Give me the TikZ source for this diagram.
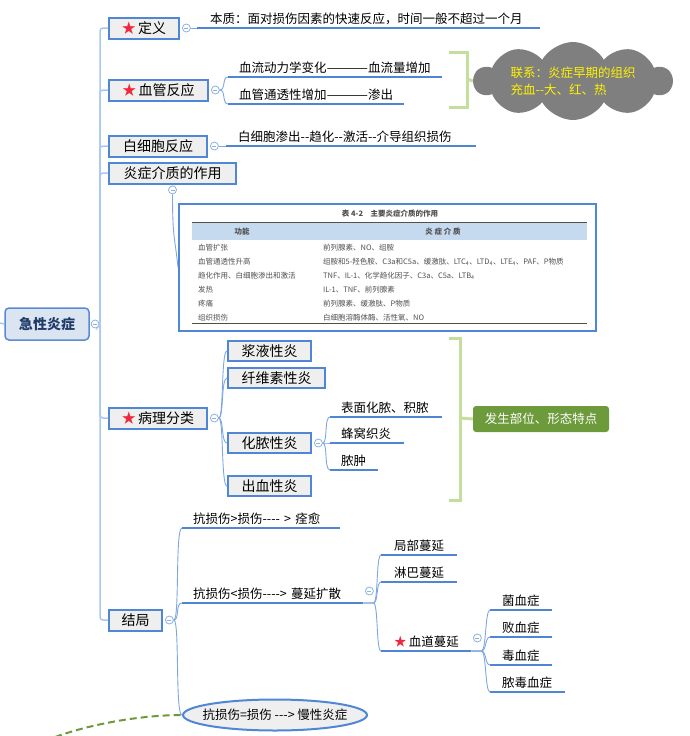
\documentclass[tikz,border=0pt]{standalone}
\usepackage{fontspec}
\setmainfont{Noto Sans CJK SC}[Ligatures=TeXOff]
\usepackage{tikz}
\usetikzlibrary{shapes.geometric,shapes.symbols,positioning}

\definecolor{boxblue}{RGB}{79,134,214}
\definecolor{boxgray}{RGB}{239,239,239}
\definecolor{ulblue}{RGB}{79,133,211}
\definecolor{connblue}{RGB}{126,166,224}
\definecolor{trunkblue}{RGB}{169,199,239}
\definecolor{foldblue}{RGB}{141,176,227}
\definecolor{rootfill}{RGB}{219,229,241}
\definecolor{rootblue}{RGB}{90,138,212}
\definecolor{rootink}{RGB}{31,59,106}
\definecolor{bracegreen}{RGB}{196,223,155}
\definecolor{featgreen}{RGB}{109,154,59}
\definecolor{cloudgray}{RGB}{127,127,127}
\definecolor{starred}{RGB}{240,40,60}
\definecolor{tblink}{RGB}{80,80,80}
\definecolor{tblhead}{RGB}{197,217,239}

\newcommand{\redstar}{{\color{starred}★}\,}
\newcommand{\longdash}{\scalebox{1.35}[1]{———}}

\begin{document}
\begin{tikzpicture}[x=1pt, y=-1pt,
    topic/.style={draw=boxblue, line width=2pt, fill=boxgray, anchor=west, minimum height=21pt, inner xsep=0pt, inner ysep=0pt, font=\fontsize{14}{16}\selectfont},
    leaf/.style 2 args={anchor=south west, text width=#1, align=left, inner xsep=0pt, inner ysep=3pt, execute at begin node=\hspace*{#2}, font=\fontsize{12.5}{14}\selectfont},
    fold/.style={circle, draw=foldblue, fill=white, line width=0.8pt, minimum size=8pt, inner sep=0pt,
        path picture={\draw[foldblue, line width=0.6pt] ([xshift=-2pt]path picture bounding box.center) -- ([xshift=2pt]path picture bounding box.center);}},
    uline/.style={ulblue, line width=2pt},
    conn/.style={connblue, line width=0.9pt},
    trunk/.style={trunkblue, line width=1.5pt, rounded corners=3pt},
    brace/.style={bracegreen, line width=3pt},
    tbltext/.style={anchor=west, inner sep=0pt, text=tblink, font=\fontsize{7.5}{9}\selectfont}
]
\useasboundingbox (0,0) rectangle (689,736);

% root and first level
\node[draw=rootblue, line width=1.5pt, fill=rootfill, rounded corners=4pt, minimum width=84pt, minimum height=32pt,
      text=rootink, font=\fontsize{14}{16}\selectfont\bfseries] (root) at (47,324) {急性炎症};
\node[fold, right=1pt of root] (c0) {};
\coordinate (rootin) at (0,323);
\coordinate (tr) at (100,323);

\node[topic, minimum width=70pt] (def) at (108,28) {\redstar 定义};
\node[topic, minimum width=99pt] (vas) at (108,90) {\redstar 血管反应};
\node[topic, minimum width=98pt] (wbc) at (108,146) {白细胞反应};
\node[topic, minimum width=127pt] (med) at (108,173) {炎症介质的作用};
\node[topic, minimum width=98pt] (pat) at (108,418) {\redstar 病理分类};
\node[topic, minimum width=53pt] (out) at (108,620) {结局};

\node[fold, right=2pt of def] (c1) {};
\node[fold, right=2pt of vas] (c2) {};
\node[fold, right=2pt of wbc] (c3) {};
\node[fold, below=1pt of med] (c4) {};
\node[fold, right=2pt of pat] (c5) {};
\node[fold, right=2pt of out] (c7) {};

\draw[trunk] (rootin) -- (root.west);
\foreach \n in {def,vas,wbc,med,pat,out}
    \draw[trunk] (c0.east) -- (tr) |- (\n.west);

% definition, vessels, leukocytes
\node[leaf={343pt}{13pt}] (def1) at (197,28) {本质：面对损伤因素的快速反应，时间一般不超过一个月};
\node[leaf={214pt}{11pt}] (vas1) at (228,77) {血流动力学变化\longdash 血流量增加};
\node[leaf={176pt}{11pt}] (vas2) at (228,104) {血管通透性增加\longdash 渗出};
\node[leaf={250pt}{12pt}] (wbc1) at (226,146) {白细胞渗出--趋化--激活--介导组织损伤};

\draw[conn] (c1.east) -- (def1.south west);
\draw[conn] (c3.east) -- (wbc1.south west);
\foreach \n in {vas1,vas2}
    \draw[conn] (c2.east) .. controls +(6,0) and +(-6,0) .. (\n.south west);

\node[cloud, cloud puffs=10, cloud puff arc=120, aspect=2.6, fill=cloudgray, inner sep=0pt,
      minimum width=198pt, minimum height=78pt] (link) at (573,81) {};
\node[align=left, text=yellow, inner sep=0pt, font=\fontsize{12.5}{17}\selectfont] (linktxt) at (link.center) {联系：炎症早期的组织\\充血--大、红、热};
\draw[brace] (449,52) -- (467,52) -- (467,107) -- (449,107);
\draw[brace] (467,79) -- (link.west);

% mediator table
\node[draw=boxblue, line width=2pt, fill=white, minimum width=417pt, minimum height=127pt] (tbl) at (387.5,267.5) {};
\draw[conn] (c4.south) .. controls +(0,45) and +(-3,-30) .. (tbl.west);
\fill[tblhead] (192,223) rectangle (587,240);
\draw[tblink, line width=0.8pt] (192,222) -- (587,222);
\draw[tblink, line width=1pt] (192,323) -- (587,323);
\node[tbltext, anchor=center, font=\fontsize{7.5}{9}\selectfont\bfseries] (cap) at (390,214) {表 4-2\quad 主要炎症介质的作用};
\node[tbltext, anchor=center, font=\fontsize{7.5}{9}\selectfont\bfseries] (hd1) at (242,231.5) {功能};
\node[tbltext, anchor=center, font=\fontsize{7.5}{9}\selectfont\bfseries] (hd2) at (443,231.5) {炎\ 症\ 介\ 质};
\foreach \y/\fn/\md [count=\i] in {
    248/{血管扩张}/{前列腺素、NO、组胺},
    262/{血管通透性升高}/{组胺和5-羟色胺、C3a和C5a、缓激肽、LTC\textsubscript{4}、LTD\textsubscript{4}、LTE\textsubscript{4}、PAF、P物质},
    276/{趋化作用、白细胞渗出和激活}/{TNF、IL-1、化学趋化因子、C3a、C5a、LTB\textsubscript{4}},
    290/{发热}/{IL-1、TNF、前列腺素},
    304/{疼痛}/{前列腺素、缓激肽、P物质},
    318/{组织损伤}/{白细胞溶酶体酶、活性氧、NO}}{
    \node[tbltext] (fn\i) at (198,\y) {\fn};
    \node[tbltext] (md\i) at (323,\y) {\md};
}

% pathology
\node[topic, minimum width=83pt, minimum height=20pt] (ser) at (227,351) {浆液性炎};
\node[topic, minimum width=97pt, minimum height=20pt] (fib) at (227,378) {纤维素性炎};
\node[topic, minimum width=83pt, minimum height=20pt] (pur) at (227,443) {化脓性炎};
\node[topic, minimum width=83pt, minimum height=20pt] (hem) at (227,486) {出血性炎};
\foreach \n in {ser,fib,pur,hem}
    \draw[conn] (c5.east) .. controls +(5,0) and +(-6,0) .. (\n.west);

\node[fold, right=2pt of pur] (c6) {};
\node[leaf={112pt}{11pt}] (pus1) at (330,417) {表面化脓、积脓};
\node[leaf={74pt}{11pt}] (pus2) at (330,443) {蜂窝织炎};
\node[leaf={48pt}{11pt}] (pus3) at (330,470) {脓肿};
\foreach \n in {pus1,pus2,pus3}
    \draw[conn] (c6.east) .. controls +(5,0) and +(-6,0) .. (\n.south west);

\node[fill=featgreen, rounded corners=3pt, minimum width=136pt, minimum height=26pt, inner sep=0pt,
      text=white, font=\fontsize{12.5}{14}\selectfont] (feat) at (541,419) {发生部位、形态特点};
\draw[brace] (449,338) -- (460,338) -- (460,500) -- (449,500);
\draw[brace] (460,418) -- (feat.west);

% outcome
\node[leaf={158pt}{11pt}] (out1) at (182,528) {抗损伤>损伤---- > 痊愈};
\node[leaf={181pt}{11pt}] (out2) at (182,603) {抗损伤<损伤----> 蔓延扩散};
\node[ellipse, draw=boxblue, line width=2pt, fill=boxgray, minimum width=184pt, minimum height=31pt, inner sep=0pt,
      font=\fontsize{12.5}{14}\selectfont] (chr) at (275,715) {\makebox[0pt]{抗损伤=损伤 ---> 慢性炎症}};
\foreach \n in {out1.south west,out2.south west,chr.west}
    \draw[conn] (c7.east) .. controls +(6,0) and +(-7,0) .. (\n);
\coordinate (far) at (55,737);
\draw[featgreen, line width=2pt, dash pattern=on 7pt off 4pt] (far) .. controls (100,721) and (150,715) .. (chr.west);

\node[fold] (c8) at ([shift={(6,-12)}]out2.south east) {};
\node[leaf={76pt}{13pt}] (spr1) at (381,555) {局部蔓延};
\node[leaf={76pt}{13pt}] (spr2) at (381,582) {淋巴蔓延};
\node[leaf={90pt}{13pt}] (spr3) at (381,651) {\redstar 血道蔓延};
\foreach \n in {spr1,spr2,spr3}
    \draw[conn] (out2.south east) -- ++(10,0) .. controls +(5,0) and +(-5,0) .. (\n.south west);

\node[fold] (c9) at ([shift={(6,-13)}]spr3.south east) {};
\node[leaf={62pt}{12pt}] (bld1) at (490,610) {菌血症};
\node[leaf={62pt}{12pt}] (bld2) at (490,637) {败血症};
\node[leaf={62pt}{12pt}] (bld3) at (490,665) {毒血症};
\node[leaf={75pt}{12pt}] (bld4) at (490,692) {脓毒血症};
\foreach \n in {bld1,bld2,bld3,bld4}
    \draw[conn] (spr3.south east) -- ++(10,0) .. controls +(5,0) and +(-5,0) .. (\n.south west);

% underlines
\foreach \n in {def1,vas1,vas2,wbc1,pus1,pus2,pus3,out1,out2,spr1,spr2,spr3,bld1,bld2,bld3,bld4}
    \draw[uline] (\n.south west) -- (\n.south east);
\end{tikzpicture}
\end{document}
